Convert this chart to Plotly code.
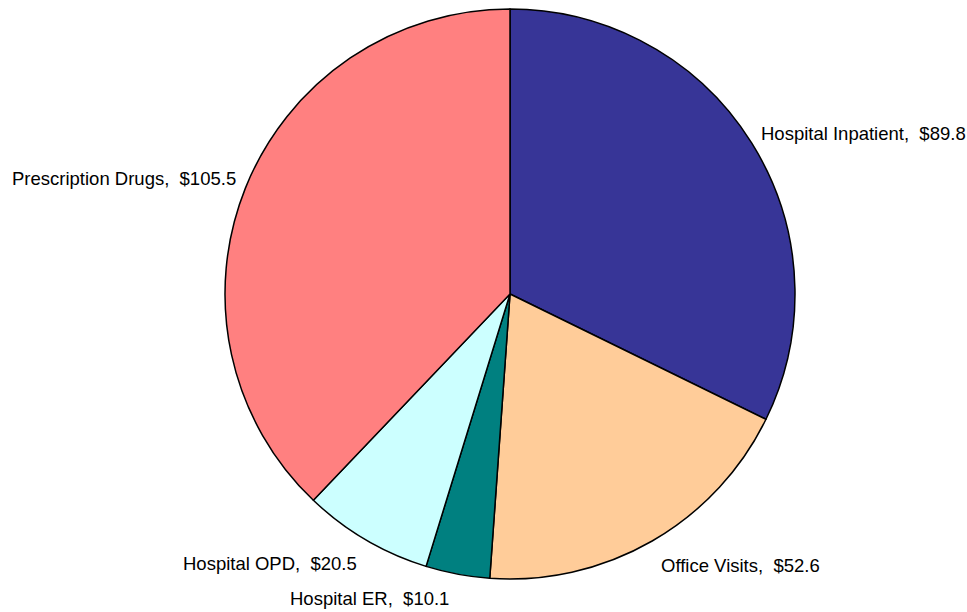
import math
import plotly.graph_objects as go

categories = ["Hospital Inpatient", "Office Visits", "Hospital ER", "Hospital OPD", "Prescription Drugs"]
values = [89.8, 52.6, 10.1, 20.5, 105.5]
colors = ["#373597", "#FFCC99", "#008080", "#CCFFFF", "#FF8080"]

W, H = 967, 612
CX, CY, R = 510, 294, 285  # pie centre / radius in figure pixels

fig = go.Figure(go.Pie(
    labels=categories,
    values=values,
    sort=False,
    direction="clockwise",
    rotation=0,
    marker=dict(colors=colors, line=dict(color="black", width=1.5)),
    textinfo="none",
    domain=dict(x=[(CX - R) / W, (CX + R) / W], y=[1 - (CY + R) / H, 1 - (CY - R) / H]),
    hoverinfo="label+value",
    showlegend=False,
))

# outside labels placed at each slice's mid-angle (derived from the values)
total = sum(values)
cum = 0.0
annotations = []
for cat, val in zip(categories, values):
    mid = (cum + val / 2) / total * 2 * math.pi
    cum += val
    s, c = math.sin(mid), -math.cos(mid)
    px = CX + R * s
    py = CY + R * c
    right_side = s >= 0
    upper = c < 0
    ax = px + (7 if right_side else -7)
    ay = py + (-10 if upper else 24)
    annotations.append(dict(
        x=ax / W, y=1 - ay / H, xref="paper", yref="paper",
        text=f"{cat},  ${val:.1f}", showarrow=False,
        xanchor="left" if right_side else "right", yanchor="middle",
        font=dict(family="Liberation Sans, Arial, sans-serif", size=18.5, color="black"),
    ))

fig.update_layout(
    width=W, height=H,
    margin=dict(l=0, r=0, t=0, b=0),
    paper_bgcolor="white",
    plot_bgcolor="white",
    showlegend=False,
    annotations=annotations,
)
fig.write_html(
    "out.html",
    config={"displayModeBar": False},
    post_script="document.body.style.margin='0';document.body.style.overflow='hidden';",
)
